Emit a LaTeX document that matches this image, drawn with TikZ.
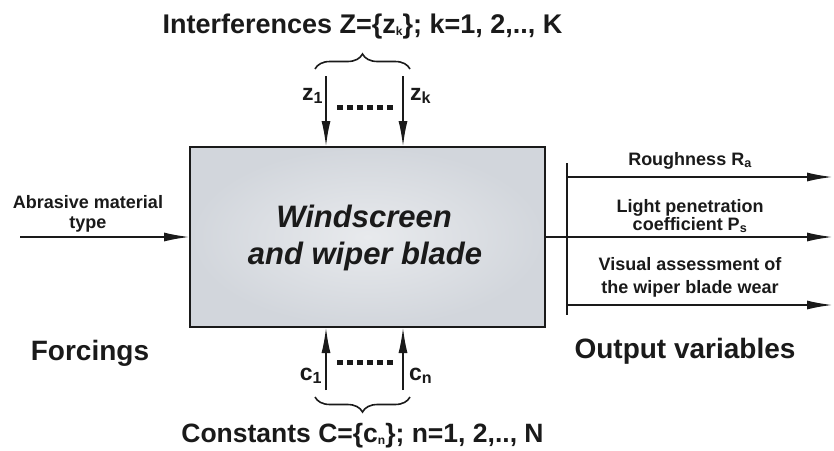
\documentclass[tikz,border=0pt]{standalone}
\usepackage{fontspec}
\setmainfont{Liberation Sans}
\usetikzlibrary{arrows.meta,decorations.pathreplacing}
\definecolor{ink}{RGB}{26,26,26}
\definecolor{boxin}{RGB}{232,234,237}
\definecolor{boxout}{RGB}{210,214,220}
\newcommand{\tsub}[1]{\raisebox{-2.5pt}{\fontsize{12}{12}\selectfont #1}}
\begin{document}
\begin{tikzpicture}[x=1pt,y=-1pt,
  every node/.style={inner sep=0pt,outer sep=0pt,text=ink,font=\bfseries},
  conn/.style={line width=2pt,draw=ink,-{Latex[length=26pt,width=9pt]}},
  plain/.style={line width=2pt,draw=ink},
  lbl/.style={font=\bfseries\fontsize{18}{20}\selectfont,align=center,anchor=base},
  big/.style={font=\bfseries\fontsize{28}{32}\selectfont,anchor=base},
  ttl/.style={font=\bfseries\fontsize{27}{32}\selectfont,anchor=base},
  idx/.style={font=\bfseries\fontsize{23}{26}\selectfont,anchor=base},
  dotline/.style={line width=5pt,draw=ink,dash pattern=on 6pt off 4pt},
  brc/.style={line width=1.6pt,draw=ink,decorate,decoration={brace,amplitude=15pt}}]
\useasboundingbox (0,0) rectangle (834,450);
\fill[white] (0,0) rectangle (834,450);
% system box
\node[draw=ink,line width=2pt,minimum width=355pt,minimum height=180pt,
  inner color=boxin,outer color=boxout] (box) at (367.5,237) {};
\node[font=\bfseries\itshape\fontsize{31}{36}\selectfont,anchor=base] (w1) at (364,227) {Windscreen};
\node[font=\bfseries\itshape\fontsize{31}{36}\selectfont,anchor=base] (w2) at (365,264) {and wiper blade};
% input
\coordinate (lin) at (20,237);
\draw[conn] (lin) -- (box.west);
\node[lbl] (abr1) at (88,208) {Abrasive material};
\node[lbl] (abr2) at (88,228) {type};
\node[big] (forc) at (90,360) {Forcings};
% interferences
\coordinate (z1s) at (326,76);
\coordinate (zks) at (403,76);
\draw[conn] (z1s) -- (z1s |- box.north);
\draw[conn] (zks) -- (zks |- box.north);
\node[idx,anchor=base east] (z1) at (323,100) {z\textsubscript{1}};
\node[idx,anchor=base west] (zk) at (410,100) {z\textsubscript{k}};
\coordinate (zd1) at (337,107);
\coordinate (zd2) at (393,107);
\draw[dotline] (zd1) -- (zd2);
\coordinate (zb1) at (315,69);
\coordinate (zb2) at (410,69);
\draw[brc] (zb1) -- (zb2);
\node[ttl] (ztitle) at (362.5,33) {Interferences Z=\{z\tsub{k}\}; k=1, 2,.., K};
% constants
\coordinate (c1s) at (326,390);
\coordinate (cns) at (403,390);
\draw[conn] (c1s) -- (c1s |- box.south);
\draw[conn] (cns) -- (cns |- box.south);
\node[idx,anchor=base east] (c1) at (322,380) {c\textsubscript{1}};
\node[idx,anchor=base west] (cn) at (409,380) {c\textsubscript{n}};
\coordinate (cd1) at (337,362);
\coordinate (cd2) at (393,362);
\draw[dotline] (cd1) -- (cd2);
\coordinate (cb1) at (410,397);
\coordinate (cb2) at (315,397);
\draw[brc] (cb1) -- (cb2);
\node[ttl,font=\bfseries\fontsize{26.5}{32}\selectfont] (ctitle) at (362.5,442) {Constants C=\{c\tsub{n}\}; n=1, 2,.., N};
% outputs
\coordinate (o2) at (833,237);
\draw[conn] (box.east) -- (o2);
\coordinate (bt) at (567,163);
\coordinate (bb) at (567,315);
\draw[plain] (bt) -- (bb);
\coordinate (o1s) at (567,177);
\coordinate (o1) at (833,177);
\coordinate (o3s) at (567,305);
\coordinate (o3) at (833,305);
\draw[conn] (o1s) -- (o1);
\draw[conn] (o3s) -- (o3);
\node[lbl] (r1) at (690,165) {Roughness R\textsubscript{a}};
\node[lbl] (r2a) at (690,212) {Light penetration};
\node[lbl] (r2b) at (690,230) {coefficient P\textsubscript{s}};
\node[lbl] (r3a) at (690,270) {Visual assessment of};
\node[lbl] (r3b) at (690,293) {the wiper blade wear};
\node[big] (outv) at (685,358) {Output variables};
\end{tikzpicture}
\end{document}
